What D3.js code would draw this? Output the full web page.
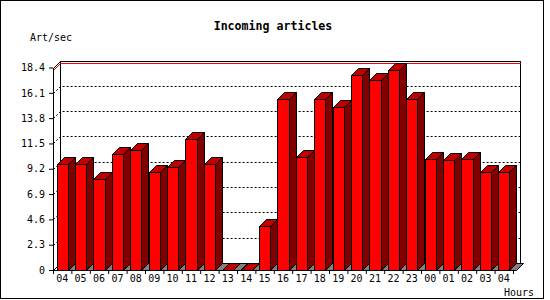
<!DOCTYPE html>
<html>
<head>
<meta charset="utf-8">
<script src="https://cdn.jsdelivr.net/npm/d3@7"></script>
<style>
  body { margin: 0; background: #fff; }
  svg { display: block; }
  text { font-family: "DejaVu Sans Mono", monospace; fill: #000; }
</style>
</head>
<body>
<svg width="550" height="300"></svg>
<script>
// hours of the day (last 25 hours) and articles per second
var hours = ["04","05","06","07","08","09","10","11","12","13","14","15","16",
             "17","18","19","20","21","22","23","00","01","02","03","04"];
var rates = [9.6, 9.6, 8.25, 10.5, 10.9, 8.9, 9.4, 11.9, 9.6, 0, 0, 4.0, 15.5,
             10.25, 15.5, 14.8, 17.7, 17.25, 18.15, 15.5, 10.05, 9.95, 10.05, 8.95, 8.9];
var yTicks = [0, 2.3, 4.6, 6.9, 9.2, 11.5, 13.8, 16.1, 18.4];

var svg = d3.select("svg"),
    depth = 7,
    plotLeft = 53, plotRight = 513, plotBottom = 270, plotTop = 67.5;

var px = function(v) { return Math.round(v) + 0.5; };

var x = d3.scaleBand().domain(d3.range(hours.length)).range([plotLeft, plotRight])
          .paddingInner(0.4).paddingOuter(0.2),
    xEdge = d3.scaleLinear().domain([0, hours.length]).range([plotLeft, plotRight]),
    y = d3.scaleLinear().domain([0, d3.max(yTicks)]).range([plotBottom, plotTop]);

// frame
svg.append("rect")
   .attr("x", 0.5).attr("y", 0.5).attr("width", 543).attr("height", 298)
   .attr("fill", "none").attr("stroke", "#000");

// title and axis names
svg.append("text")
   .attr("x", 273).attr("y", 30)
   .attr("text-anchor", "middle")
   .style("font-size", "11.6px").style("font-weight", "bold")
   .text("Incoming articles");
svg.append("text").attr("x", 30).attr("y", 41).style("font-size", "10px").text("Art/sec");
svg.append("text").attr("x", 504).attr("y", 296).style("font-size", "10px").text("Hours");

var yb = px(y(0)), yTop = px(y(d3.max(yTicks)));
var xl = px(plotLeft), xr = px(plotRight);

// back plane
svg.append("rect")
   .attr("x", xl + depth).attr("y", yTop - depth)
   .attr("width", xr - xl).attr("height", yb - yTop)
   .attr("fill", "none").attr("stroke", "#000");

// dotted grid on the back plane
svg.selectAll(".grid")
   .data(yTicks.slice(1, -1))
   .enter().append("path")
   .attr("class", "grid")
   .attr("d", function(d) {
       var yy = px(y(d));
       return "M" + xl + "," + yy + "L" + (xl + depth) + "," + (yy - depth) + "H" + (xr + depth);
   })
   .attr("fill", "none").attr("stroke", "#000").attr("stroke-dasharray", "2,2");

// depth edges
svg.append("path")
   .attr("d", "M" + xl + "," + yTop + "l" + depth + "," + (-depth) +
              "M" + xl + "," + yb + "l" + depth + "," + (-depth) +
              "M" + xr + "," + yb + "l" + depth + "," + (-depth))
   .attr("fill", "none").attr("stroke", "#000");

// max line
var ym = px(y(d3.max(rates)));
svg.append("path")
   .attr("d", "M" + xl + "," + ym + "L" + (xl + depth) + "," + (ym - depth) + "H" + (xr + depth))
   .attr("fill", "none").attr("stroke", "#f00");

// bars
var bars = svg.selectAll(".bar")
   .data(rates)
   .enter().append("g")
   .attr("class", "bar");

function geom(d, i) {
    return { x0: px(x(i)), x1: px(x(i) + x.bandwidth()), yt: px(y(d)) };
}

bars.append("path")   // floor shadow
   .attr("d", function(d, i) {
       var g = geom(d, i);
       return "M" + g.x1 + "," + yb + "h" + depth + "l" + depth + "," + (-depth) +
              "h" + (-depth) + "Z";
   })
   .attr("fill", "#808080").attr("stroke", "#000");

bars.append("path")   // side
   .attr("d", function(d, i) {
       var g = geom(d, i);
       return "M" + g.x1 + "," + yb + "V" + g.yt + "l" + depth + "," + (-depth) +
              "V" + (yb - depth) + "Z";
   })
   .attr("fill", "#800000").attr("stroke", "#000");

bars.append("path")   // top
   .attr("d", function(d, i) {
       var g = geom(d, i);
       return "M" + g.x0 + "," + g.yt + "H" + g.x1 + "l" + depth + "," + (-depth) +
              "H" + (g.x0 + depth) + "Z";
   })
   .attr("fill", "#c00000").attr("stroke", "#000");

bars.append("rect")   // front
   .attr("x", function(d, i) { return geom(d, i).x0; })
   .attr("y", function(d, i) { return geom(d, i).yt; })
   .attr("width", function(d, i) { var g = geom(d, i); return g.x1 - g.x0; })
   .attr("height", function(d, i) { return yb - geom(d, i).yt; })
   .attr("fill", "#f00").attr("stroke", "#000");

// y axis
var yAxis = svg.append("g")
   .attr("transform", "translate(" + Math.round(plotLeft) + ",0)")
   .call(d3.axisLeft(y).tickValues(yTicks).tickSize(4).tickSizeOuter(0)
           .tickPadding(4).tickFormat(function(d) { return String(d); }));
yAxis.selectAll("text").style("font-size", "10px").style("font-family", "DejaVu Sans Mono");

// x axis: ticks at hour boundaries, labels centred
svg.append("g")
   .attr("transform", "translate(0," + Math.round(plotBottom) + ")")
   .call(d3.axisBottom(xEdge).tickValues(d3.range(hours.length + 1))
           .tickSize(4).tickSizeOuter(0).tickFormat(""));

var xAxis = svg.append("g")
   .attr("transform", "translate(0," + Math.round(plotBottom) + ")")
   .call(d3.axisBottom(x).tickSize(0).tickPadding(5)
           .tickFormat(function(i) { return hours[i]; }));
xAxis.select(".domain").remove();
xAxis.selectAll("text").style("font-size", "10px").style("font-family", "DejaVu Sans Mono");

svg.selectAll(".domain, .tick line").attr("stroke", "#000");
</script>
</body>
</html>
